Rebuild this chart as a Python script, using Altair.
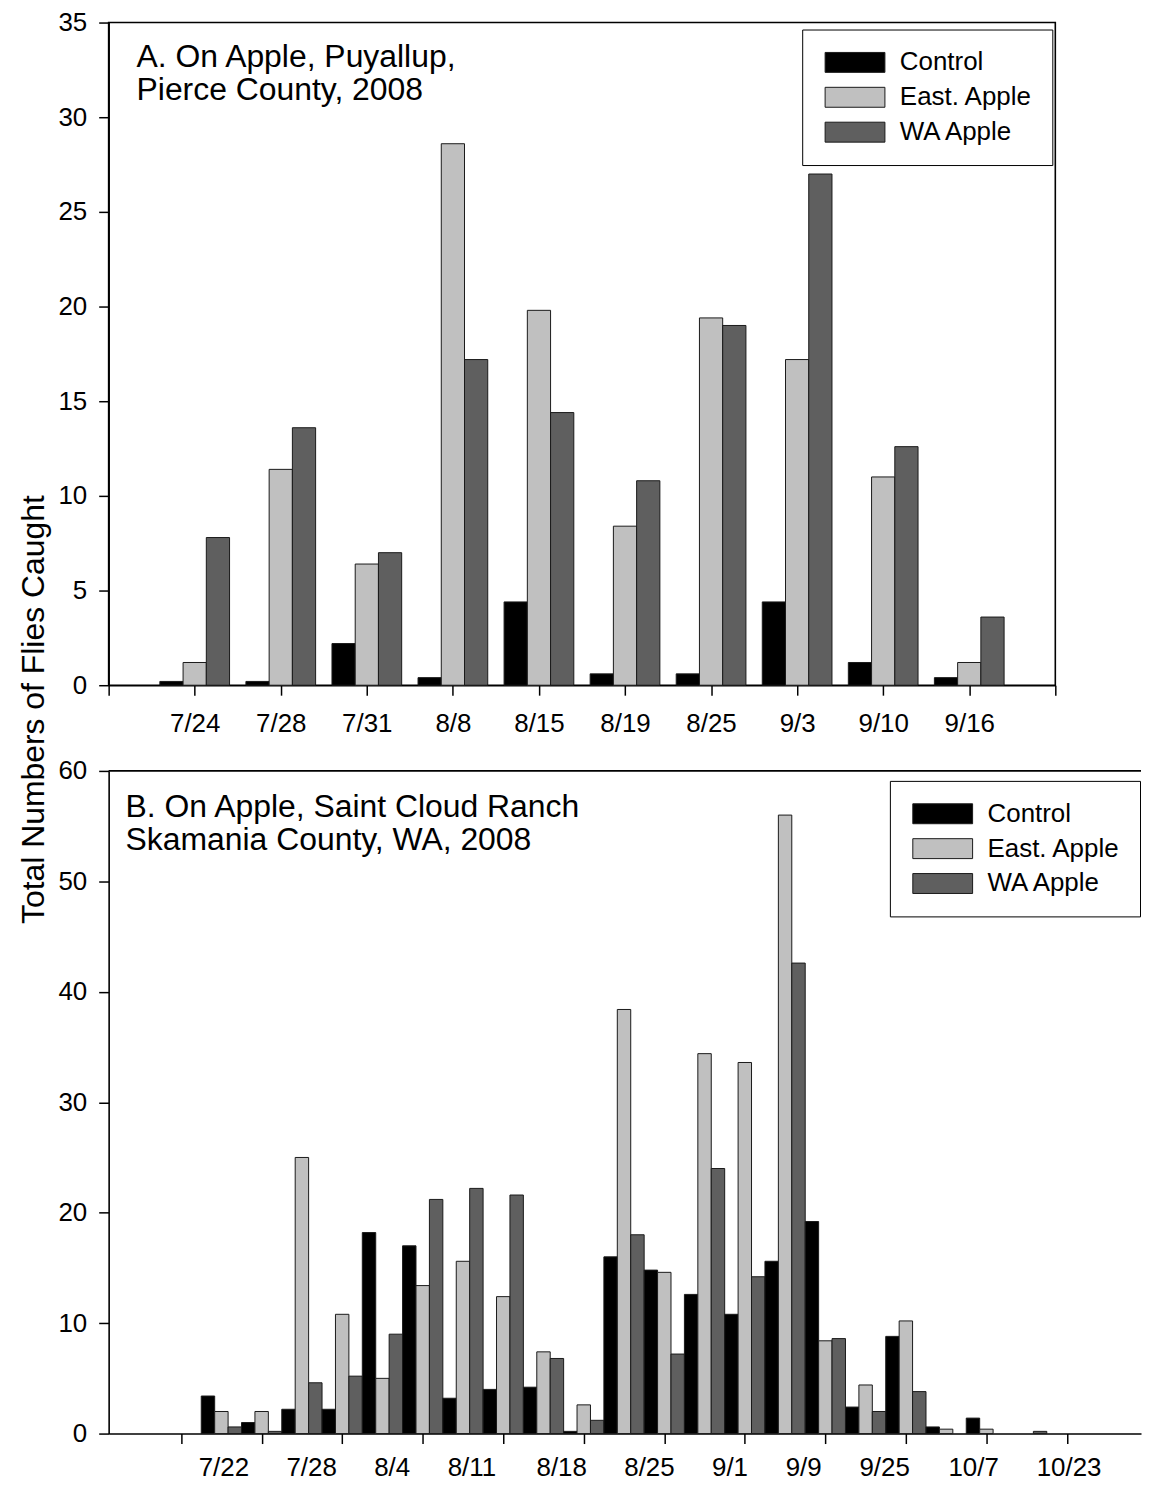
import json
import altair as alt
import pandas as pd

FONT = "Liberation Sans"

series = ["Control", "East. Apple", "WA Apple"]
series_colors = ["#000000", "#c0c0c0", "#5f5f5f"]

# Panel A: On Apple, Puyallup, Pierce County, 2008
a_dates = ["7/24", "7/28", "7/31", "8/8", "8/15", "8/19", "8/25", "9/3", "9/10", "9/16"]
a_control = [0.2, 0.2, 2.2, 0.4, 4.4, 0.6, 0.6, 4.4, 1.2, 0.4]
a_east = [1.2, 11.4, 6.4, 28.6, 19.8, 8.4, 19.4, 17.2, 11.0, 1.2]
a_wa = [7.8, 13.6, 7.0, 17.2, 14.4, 10.8, 19.0, 27.0, 12.6, 3.6]

# Panel B: On Apple, Saint Cloud Ranch, Skamania County, WA, 2008 (22 sampling groups)
b_control = [3.4, 1.0, 2.2, 2.2, 18.2, 17.0, 3.2, 4.0, 4.2, 0.2, 16.0,
             14.8, 12.6, 10.8, 15.6, 19.2, 2.4, 8.8, 0.6, 1.4, 0.0, 0.0]
b_east = [2.0, 2.0, 25.0, 10.8, 5.0, 13.4, 15.6, 12.4, 7.4, 2.6, 38.4,
          14.6, 34.4, 33.6, 56.0, 8.4, 4.4, 10.2, 0.4, 0.4, 0.0, 0.0]
b_wa = [0.6, 0.2, 4.6, 5.2, 9.0, 21.2, 22.2, 21.6, 6.8, 1.2, 18.0,
        7.2, 24.0, 14.2, 42.6, 8.6, 2.0, 3.8, 0.0, 0.0, 0.2, 0.0]
b_labels = ["7/22", "7/28", "8/4", "8/11", "8/18", "8/25", "9/1", "9/9", "9/25", "10/7", "10/23"]
b_label_pos = [1.05, 3.23, 5.23, 7.21, 9.44, 11.62, 13.62, 15.45, 17.46, 19.67, 22.04]
b_tick_pos = list(range(0, 23, 2))

title_a = ["A. On Apple, Puyallup,", "Pierce County, 2008"]
title_b = ["B. On Apple, Saint Cloud Ranch", "Skamania County, WA, 2008"]
y_title = "Total Numbers of Flies Caught"


def to_long(ctrl, east, wa):
    rows = []
    for i, vals in enumerate(zip(ctrl, east, wa)):
        for s, v in enumerate(vals):
            rows.append({"g": i + 1, "sidx": s, "series": series[s], "value": v})
    df = pd.DataFrame(rows)
    return df[df["value"] > 0]


df_a = to_long(a_control, a_east, a_wa)
df_b = to_long(b_control, b_east, b_wa)

A_W, A_H = 950, 665
B_W, B_H = 1036, 665

TICK_FS = 26
TITLE_FS = 32

axis_style = dict(
    domainColor="black", domainWidth=1.6, tickColor="black", tickWidth=1.5,
    tickSize=10, labelFont=FONT, labelFontSize=TICK_FS, labelColor="black",
    grid=False,
)

legend_common = dict(
    title=None, orient="none", strokeColor="black", padding=20,
    symbolType="M-1,-1H5V1H-1Z", symbolSize=400, symbolStrokeColor="#1a1a1a",
    symbolStrokeWidth=1, symbolOpacity=1, labelFont=FONT, labelFontSize=26,
    labelColor="black", labelOffset=52, rowPadding=9,
)

color_scale = alt.Scale(domain=series, range=series_colors)

# ---------------- Panel A ----------------
a_label_expr = json.dumps([""] + a_dates + [""]) + "[datum.value]"

bars_a = alt.Chart(df_a).transform_calculate(
    x1="datum.g - 0.405 + datum.sidx * 0.27",
    x2="datum.g - 0.135 + datum.sidx * 0.27",
).mark_bar(stroke="#1a1a1a", strokeWidth=1, opacity=1).encode(
    x=alt.X("x1:Q", scale=alt.Scale(domain=[0, 11], nice=False, zero=False),
            axis=alt.Axis(values=list(range(12)), labelExpr=a_label_expr,
                          labelPadding=15, title=None, **axis_style)),
    x2="x2:Q",
    y=alt.Y("value:Q", scale=alt.Scale(domain=[0, 35], nice=False),
            axis=alt.Axis(values=list(range(0, 36, 5)), labelPadding=12, title=None,
                          **axis_style)),
    y2=alt.datum(0),
    color=alt.Color("series:N", scale=color_scale,
                    legend=alt.Legend(legendX=696, legendY=7, **legend_common)),
)

text_a = alt.Chart(pd.DataFrame({"t": [0]})).mark_text(
    text=title_a, align="left", baseline="alphabetic", font=FONT, fontSize=TITLE_FS,
    lineHeight=33, color="black",
).encode(x=alt.value(28), y=alt.value(45))

panel_a = alt.layer(bars_a, text_a).properties(
    width=A_W, height=A_H, view=alt.ViewBackground(stroke="black", strokeWidth=1.6)
)

# ---------------- Panel B ----------------
b_label_expr = json.dumps(b_labels) + "[indexof(" + json.dumps(b_label_pos) + ", datum.value)]"
b_xscale = alt.Scale(domain=[-1.8, 23.84], nice=False, zero=False)

bars_b = alt.Chart(df_b).transform_calculate(
    x1="datum.g - 0.5 + datum.sidx / 3",
    x2="datum.g - 0.5 + (datum.sidx + 1) / 3",
).mark_bar(stroke="#1a1a1a", strokeWidth=1, opacity=1).encode(
    x=alt.X("x1:Q", scale=b_xscale,
            axis=alt.Axis(orient="bottom", values=b_tick_pos, labels=False, title=None,
                          **axis_style)),
    x2="x2:Q",
    y=alt.Y("value:Q", scale=alt.Scale(domain=[0, 60], nice=False),
            axis=alt.Axis(values=list(range(0, 61, 10)), labelPadding=12,
                          title=y_title, titleFont=FONT, titleFontSize=32,
                          titleFontWeight="normal", titleColor="black",
                          titleX=-58, titleY=-62, **axis_style)),
    y2=alt.datum(0),
    color=alt.Color("series:N", scale=color_scale,
                    legend=alt.Legend(legendX=784, legendY=10, **legend_common)),
)

labels_b = alt.Chart(pd.DataFrame({"pos": b_label_pos})).mark_point(opacity=0).encode(
    x=alt.X("pos:Q", scale=b_xscale,
            axis=alt.Axis(orient="bottom", values=b_label_pos, labelExpr=b_label_expr,
                          ticks=False, domain=False, labelPadding=21, labelFont=FONT,
                          labelFontSize=TICK_FS, labelColor="black", grid=False,
                          title=None)),
)

top_b = alt.Chart(pd.DataFrame({"t": [0]})).mark_rule(color="black", strokeWidth=1.6).encode(
    x=alt.value(0), x2=alt.value(B_W), y=alt.value(0)
)

text_b = alt.Chart(pd.DataFrame({"t": [0]})).mark_text(
    text=title_b, align="left", baseline="alphabetic", font=FONT, fontSize=TITLE_FS,
    lineHeight=33, color="black",
).encode(x=alt.value(17), y=alt.value(46))

panel_b = alt.layer(bars_b, labels_b, top_b, text_b).resolve_axis(x="independent").properties(
    width=B_W, height=B_H
)

chart = alt.vconcat(panel_a, panel_b, spacing=86, bounds="flush").resolve_scale(
    color="independent", x="independent", y="independent"
).resolve_legend(color="independent").properties(
    padding={"left": 9, "top": -2, "right": 0, "bottom": 0}
).configure_view(stroke="transparent")

chart.save("out.html", embed_options={"renderer": "svg", "actions": False})
